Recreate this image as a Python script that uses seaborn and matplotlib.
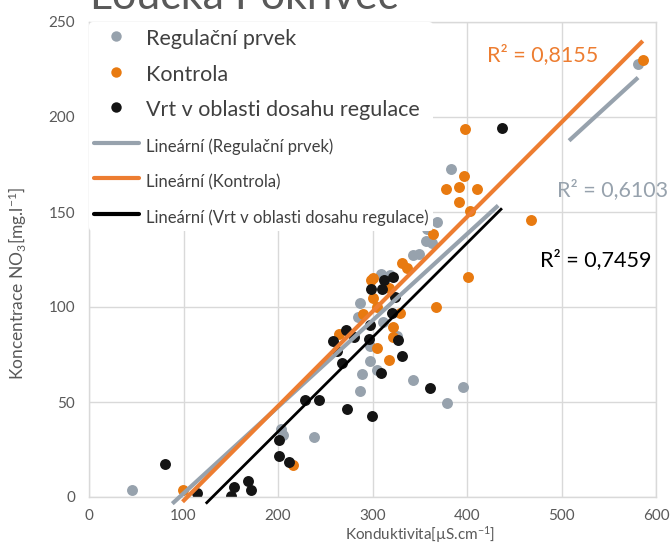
import numpy as np
import pandas as pd
import matplotlib
matplotlib.use("Agg")
import matplotlib.pyplot as plt
import seaborn as sns
from matplotlib.lines import Line2D

# ---------------- data ----------------
series_names = ["Regulační prvek", "Kontrola", "Vrt v oblasti dosahu regulace"]

reg_x = [46, 203, 205, 238, 287, 289, 297, 297, 305, 285, 287, 311, 318, 309, 326,
         343, 378.5, 396, 343, 349.5, 357, 363, 358, 368, 383.5, 581]
reg_y = [3.5, 36, 32.5, 31.5, 56, 64.5, 71.5, 79.5, 67, 95, 102, 92, 117, 117.5, 85,
         61.5, 49.5, 58, 127.5, 128, 134.5, 133.5, 141, 144.7, 172.5, 228]

kon_x = [99, 216, 264.5, 290.3, 298.5, 300.9, 304.4, 304.4, 300.5, 317.8, 317.8, 321.3,
         321.4, 329.1, 330.9, 336.2, 356, 364.4, 367.2, 378.1, 391.5, 391.2, 397.2,
         397.9, 401.4, 403.2, 410.6, 468, 586]
kon_y = [3.7, 17, 85.8, 96.5, 114, 104.6, 100.2, 78.3, 115.5, 72.1, 109.8, 84.4,
         89.6, 96.7, 123, 120.4, 144.3, 138.6, 99.8, 162.1, 163, 155.3, 168.9,
         193.7, 115.9, 150.5, 162.1, 145.8, 230]

vrt_x = [80, 114.6, 150.3, 153.8, 168.6, 171.4, 201.4, 201.4, 211.6, 228.6, 243.5,
         258.7, 262.4, 268.2, 271.8, 280.4, 272.7, 296.8, 297.4, 298.5, 299.7, 309.2,
         309.7, 311.8, 322, 323.8, 320.3, 327.2, 330.9, 360.8, 437]
vrt_y = [17.2, 1.9, 0.7, 5.1, 8.3, 3.5, 30, 21.6, 18.4, 50.8, 51.2,
         81.9, 77, 70.5, 87.9, 84.4, 46.4, 83, 90.7, 109.5, 42.4, 65.1,
         109.3, 114.2, 115.8, 105.4, 96.7, 82.6, 74.4, 57.5, 194.4]

# linear trendlines as shown in the chart (slope, intercept, R²)
trend_slope = [0.455, 0.498, 0.496]
trend_intercept = [-43.6, -51.8, -64.8]
r2_values = [0.6103, 0.8155, 0.7459]
trend_hidden = [(433, 508), None, None]   # stretch of the grey trendline not drawn

x_ticks = [0, 100, 200, 300, 400, 500, 600]
y_ticks = [0, 50, 100, 150, 200, 250]

title_text = "Loučka Pokrivec"
x_label = "Konduktivita[µS.cm$^{-1}$]"
y_label = "Koncentrace NO$_3$[mg.l$^{-1}$]"

# ---------------- style ----------------
point_colors = ["#97A2AD", "#E87A10", "#141414"]
line_colors = ["#97A2AD", "#ED7D31", "#000000"]
line_widths = [3.0, 3.0, 2.0]
r2_pos = [(494.9, 161.6), (420.8, 232.6), (477.2, 124.7)]
grid_c = "#D9D9D9"
text_c = "#595959"

sns.set_theme(style="white")
plt.rcParams['font.family'] = ['Lato', 'DejaVu Sans']
plt.rcParams['mathtext.fontset'] = 'custom'
plt.rcParams['mathtext.rm'] = 'Lato'
plt.rcParams['mathtext.it'] = 'Lato:italic'
plt.rcParams['mathtext.default'] = 'regular'

df = pd.concat([
    pd.DataFrame({"x": reg_x, "y": reg_y, "s": series_names[0]}),
    pd.DataFrame({"x": kon_x, "y": kon_y, "s": series_names[1]}),
    pd.DataFrame({"x": vrt_x, "y": vrt_y, "s": series_names[2]}),
], ignore_index=True)

fig = plt.figure(figsize=(6.72, 5.46), dpi=100)
ax = fig.add_axes([89/672, 1 - 497/546, 567/672, 475/546])

for i, name in enumerate(series_names):
    sub = df[df["s"] == name]
    sns.scatterplot(data=sub, x="x", y="y", color=point_colors[i], s=62,
                    linewidth=0, ax=ax, zorder=2 + i * 0.1, legend=False)

y_floor = -3.5
for i, name in enumerate(series_names):
    sub = df[df["s"] == name]
    m, b = trend_slope[i], trend_intercept[i]
    x0 = max(sub["x"].min(), (y_floor - b) / m)
    x1 = sub["x"].max()
    if trend_hidden[i] is None:
        segs = [(x0, x1)]
    else:
        h0, h1 = trend_hidden[i]
        segs = [(x0, h0), (h1, x1)]
    for a, c in segs:
        xs = np.array([a, c])
        ax.plot(xs, m * xs + b, color=line_colors[i], lw=line_widths[i],
                solid_capstyle='butt', zorder=3, clip_on=False)
    ax.text(r2_pos[i][0], r2_pos[i][1],
            "R² = " + f"{r2_values[i]:.4f}".replace(".", ","),
            color=line_colors[i] if i != 2 else "#000000", fontsize=15.5,
            ha='left', va='center', zorder=4)

ax.set_xlim(0, 600)
ax.set_ylim(0, 250)
ax.set_xticks(x_ticks)
ax.set_yticks(y_ticks)
ax.grid(True, color=grid_c, lw=1)
ax.set_axisbelow(True)
for sp in ax.spines.values():
    sp.set_color(grid_c)
    sp.set_linewidth(1)
ax.tick_params(length=0, labelsize=11, labelcolor=text_c)
ax.tick_params(axis='y', pad=10)
ax.tick_params(axis='x', pad=9)
ax.set_xlabel(x_label, fontsize=11, color=text_c)
ax.xaxis.set_label_coords(0.584, -0.057)
ax.set_ylabel(y_label, fontsize=12.5, color=text_c)
ax.yaxis.set_label_coords(-0.106, 0.45)

handles = [Line2D([], [], marker='o', ls='none', color=c, markersize=7.5,
                  markeredgewidth=0) for c in point_colors]
handles += [Line2D([], [], color=c, lw=3) for c in line_colors]
labels = series_names + ["Lineární (" + n + ")" for n in series_names]
leg = ax.legend(handles, labels, loc='upper left', bbox_to_anchor=(0.0, 1.0),
                borderaxespad=0, frameon=True, facecolor='white', edgecolor='none',
                framealpha=1, fontsize=15.5, handlelength=2.1, handletextpad=0.33,
                handleheight=1.2, labelspacing=0.62, borderpad=0.22)
leg.get_frame().set_linewidth(0)
leg.set_zorder(5)
for j, t in enumerate(leg.get_texts()):
    t.set_color("#404040")
    if j >= 3:
        t.set_fontsize(12)

fig.text(90/672, 1 - 9/546, title_text, fontsize=31, color=text_c, va='baseline')

fig.savefig("out.png", dpi=100)
